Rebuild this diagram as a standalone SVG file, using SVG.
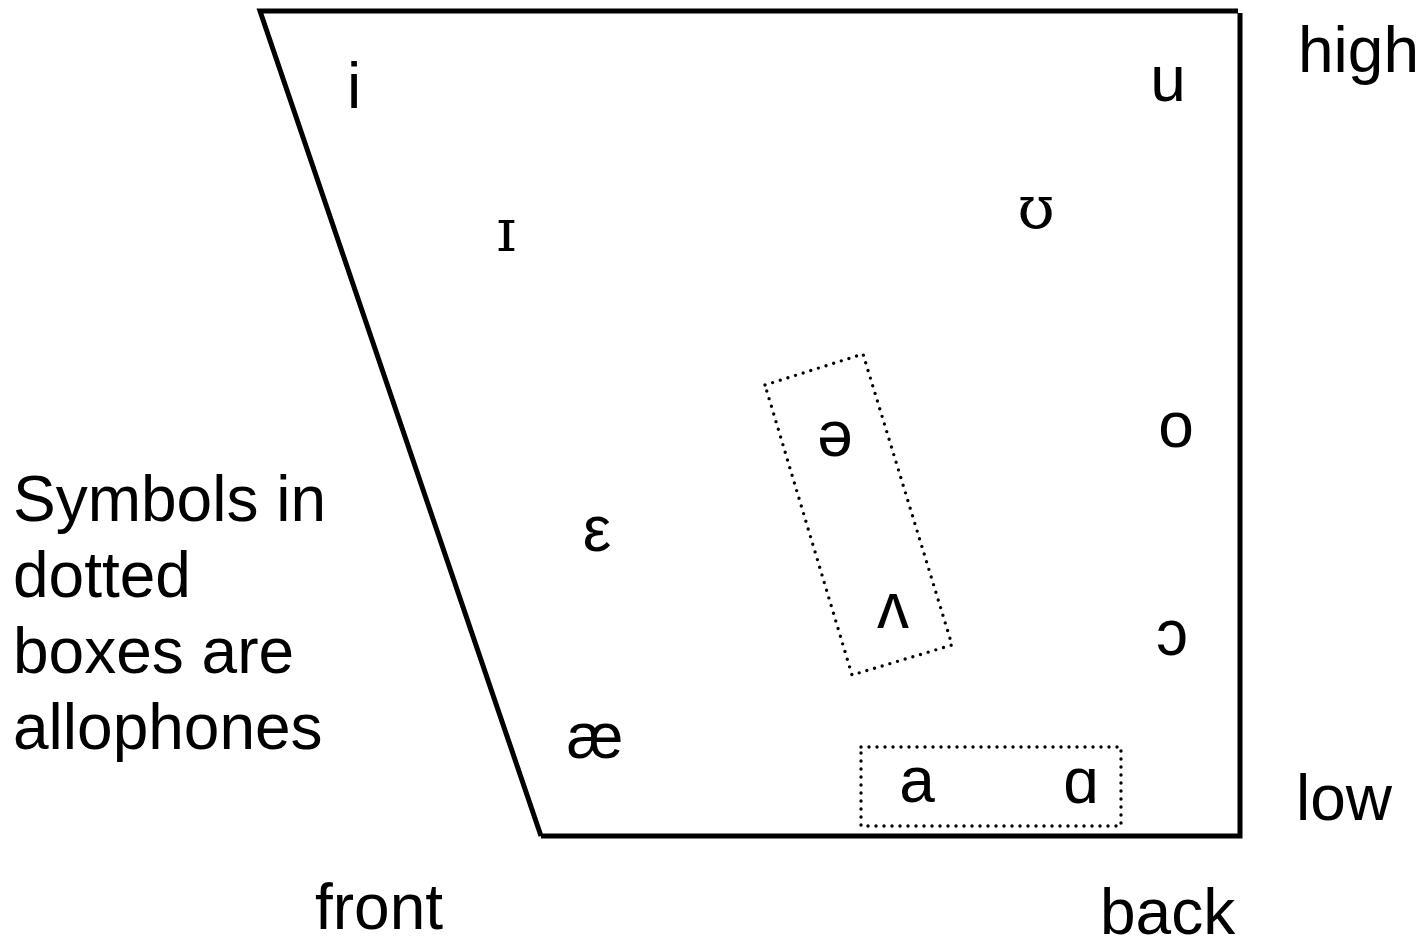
<svg xmlns="http://www.w3.org/2000/svg" width="1424" height="940" viewBox="0 0 1424 940">
<style>
.lbl{font-family:"Liberation Sans",Arial,sans-serif;font-size:64px;fill:#000}
.v{font-family:"Liberation Sans",Arial,sans-serif;font-size:64px;fill:#000;text-anchor:middle}
.vs{font-family:"DejaVu Serif","Liberation Serif",serif;font-size:60px;fill:#000;text-anchor:middle}
.frame{fill:none;stroke:#000;stroke-width:5;stroke-linejoin:miter}
.dot{fill:none;stroke:#000;stroke-width:3.4;stroke-dasharray:0 8;stroke-linecap:round}
</style>
<rect width="1424" height="940" fill="#fff"/>
<g id="chart">
<path class="frame" d="M541,836 L260,11 H1238 M1240,13 V836 H541"/>
</g>
<g id="connectors"></g>
<g id="box-schwa-wedge">
<polygon class="dot" points="765,385 863,354 952,645 852,675"/>
</g>
<g id="box-a">
<rect class="dot" x="861" y="747" width="260" height="79"/>
</g>
<g id="v-i"><text class="v" x="354" y="108">i</text></g>
<g id="v-u"><text class="v" x="1168" y="101">u</text></g>
<g id="v-I"><text class="vs" x="506" y="251">ɪ</text></g>
<g id="v-U"><text class="vs" x="1036" y="228">ʊ</text></g>
<g id="v-schwa"><text class="v" x="835" y="456">ə</text></g>
<g id="v-wedge"><text class="v" x="893" y="628">ʌ</text></g>
<g id="v-e"><text class="v" x="597" y="551">ε</text></g>
<g id="v-ae"><text class="v" x="595" y="758">æ</text></g>
<g id="v-o"><text class="v" x="1176" y="447">o</text></g>
<g id="v-open-o"><text class="v" x="1172" y="655">ɔ</text></g>
<g id="v-a"><text class="v" x="917" y="802">a</text></g>
<g id="v-alpha"><text class="v" x="1081" y="803">ɑ</text></g>
<g id="labels">
<text class="lbl" x="1298" y="72">high</text>
<text class="lbl" x="1296" y="820">low</text>
<text class="lbl" x="315" y="929">front</text>
<text class="lbl" x="1100" y="934">back</text>
<text class="lbl" x="13" y="521">Symbols in</text>
<text class="lbl" x="13" y="597">dotted</text>
<text class="lbl" x="13" y="673">boxes are</text>
<text class="lbl" x="13" y="749">allophones</text>
</g>
</svg>
